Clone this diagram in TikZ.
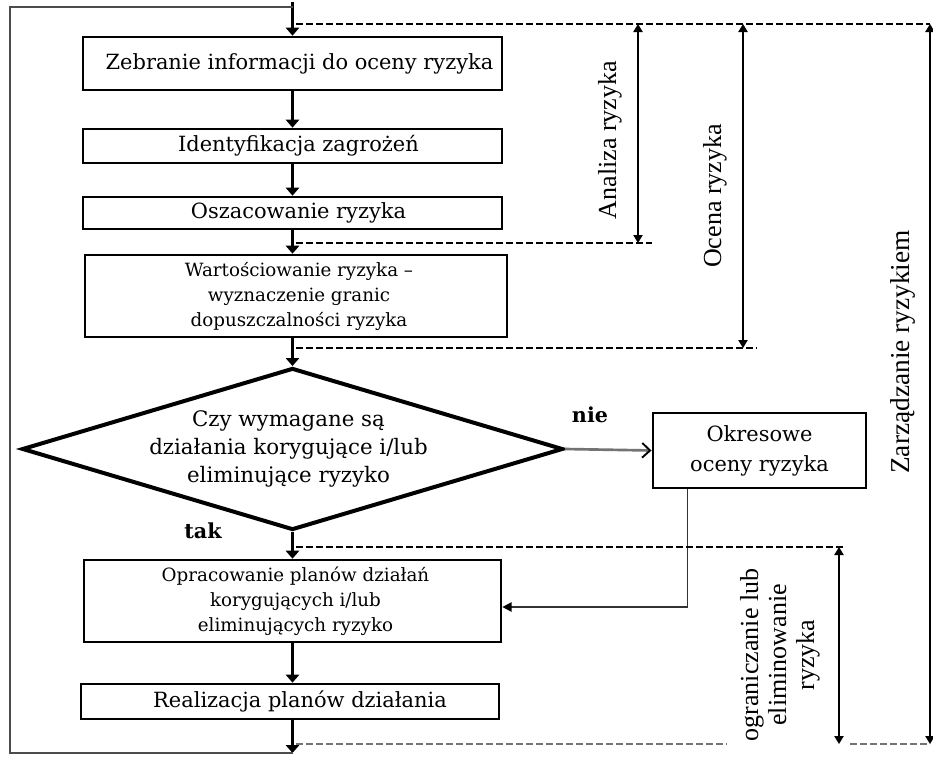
\documentclass[tikz,border=0pt]{standalone}
\usepackage{fontspec}
\setmainfont{DejaVu Serif}
\newfontfamily\timesf{Liberation Serif}
\usetikzlibrary{arrows.meta,shapes.geometric,calc}

\newcommand\boxfont{\fontsize{15.7}{18.75}\selectfont}
\newcommand\smallboxfont{\fontsize{13.7}{18.75}\selectfont}
\newcommand\decfont{\fontsize{16}{21}\selectfont}
\newcommand\labfont{\timesf\fontsize{19.5}{21}\selectfont}

\begin{document}
\begin{tikzpicture}[x=0.75pt,y=-0.75pt,
  frame/.style={draw,line width=2pt,inner sep=0pt},
  btext/.style={inner sep=0pt,align=center,font=\boxfont},
  flow/.style={line width=2.2pt,-{Triangle[length=6pt,width=10pt]}},
  loopline/.style={line width=1.6pt,black!70},
  guide/.style={dash pattern=on 5.5pt off 2pt,line width=1.5pt},
  span/.style={line width=1pt,{Triangle[length=6pt,width=7pt]}-{Triangle[length=6pt,width=7pt]}},
  vlabel/.style={rotate=90,font=\labfont,align=center,inner sep=0pt},
  answer/.style={font=\fontsize{15.5}{17}\selectfont\bfseries,inner sep=0pt},
]
\useasboundingbox (0,0) rectangle (933,757);

% process boxes
\node[frame,minimum width=419*0.75pt,minimum height=53*0.75pt] (b1) at (292.5,63.5) {};
\node[btext] (t1) at ([xshift=7*0.75pt]b1.center) {Zebranie informacji do oceny ryzyka};

\node[frame,minimum width=419*0.75pt,minimum height=34*0.75pt] (b2) at (292.5,146) {};
\node[btext] (t2) at ([xshift=6*0.75pt]b2.center) {Identyfikacja zagrożeń};

\node[frame,minimum width=419*0.75pt,minimum height=32*0.75pt] (b3) at (292.5,213) {};
\node[btext] (t3) at ([xshift=6*0.75pt]b3.center) {Oszacowanie ryzyka};

\node[frame,minimum width=422*0.75pt,minimum height=82*0.75pt] (b4) at (296,296) {};
\node[btext,font=\smallboxfont] (t4) at ([xshift=3*0.75pt]b4.center)
  {Wartościowanie ryzyka –\\ wyznaczenie granic\\ dopuszczalności ryzyka};

% decision
\node[diamond,draw,line width=3pt,minimum width=541*0.75pt,minimum height=162*0.75pt,inner sep=0pt] (dec) at (292.5,449) {};
\node[btext,font=\decfont] (td) at ([xshift=-4*0.75pt]dec.center)
  {Czy wymagane są\\ działania korygujące i/lub\\ eliminujące ryzyko};

\node[frame,line width=2.2pt,minimum width=213*0.75pt,minimum height=75*0.75pt,
      align=center,font=\fontsize{15.7}{22.5}\selectfont] (ok) at (759.5,450.5)
  {Okresowe\\ oceny ryzyka};

\node[frame,minimum width=417*0.75pt,minimum height=82*0.75pt] (b5) at (292.5,601) {};
\node[btext,font=\smallboxfont] (t5) at ([xshift=3*0.75pt]b5.center)
  {Opracowanie planów działań\\ korygujących i/lub\\ eliminujących ryzyko};

\node[frame,minimum width=418*0.75pt,minimum height=35*0.75pt] (b6) at (290,701.5) {};
\node[btext] (t6) at ([xshift=10*0.75pt]b6.center) {Realizacja planów działania};

\node[answer] (nie) at (590,415) {nie};
\node[answer] (tak) at (203,531) {tak};

% feedback loop
\coordinate (lb)  at (292.5,753);
\coordinate (lbl) at (10,753);
\coordinate (ltl) at (10,7);
\coordinate (lt)  at (292.5,7);
\coordinate (top) at (292.5,2);

% main flow
\draw[flow] (top) -- (b1.north);
\draw[flow] (b1.south) -- (b2.north);
\draw[flow] (b2.south) -- (b3.north);
\draw[flow] (b3.south) -- (b3.south |- b4.north);
\draw[flow] (b4.south -| b3.south) -- (dec.north);
\draw[flow] (dec.south) -- (b5.north);
\draw[flow] (b5.south) -- (b5.south |- b6.north);
\draw[flow] (b6.south -| b5.south) -- (lb);
\draw[loopline] (lb) -- (lbl) -- (ltl) -- (lt);

% "nie" branch and return
\draw[line width=2pt,black!55,-{Straight Barb[length=6pt,width=11pt,line width=1.4pt,black]}] (dec.east) -- (ok.west);
\coordinate (okb) at ($(ok.south west)+(36,0)$);
\draw[line width=1.3pt,black!80,-{Triangle[length=7pt,width=7pt,black]}] (okb) |- ([yshift=-6*0.75pt]b5.east);

% phase boundaries
\coordinate (g1) at (296,24);
\coordinate (g2) at (296,243);
\coordinate (g3) at (296,348);
\coordinate (g4) at (296,547);
\coordinate (g5) at (296,744);
\coordinate (a1) at (638,24);
\coordinate (a2) at (638,243);
\coordinate (o1) at (743,24);
\coordinate (o2) at (743,348);
\coordinate (z1) at (930,24);
\coordinate (z2) at (930,744);
\coordinate (e1) at (839,547);
\coordinate (e2) at (839,744);

\draw[guide] (g1) -- (z1);
\draw[guide] (g2) -- ([xshift=14*0.75pt]a2);
\draw[guide] (g3) -- ([xshift=14*0.75pt]o2);
\draw[guide] (g4) -- ([xshift=4*0.75pt]e1);
\draw[guide,black!55] (g5) -- (727,744);
\draw[guide,black!55] (850,744) -- (z2);

% phase spans
\draw[span] (a1) -- (a2);
\draw[span] (o1) -- (o2);
\draw[span] (z1) -- (z2);
\draw[span] (e1) -- (e2);

\node[vlabel] (la) at (610,140) {Analiza ryzyka};
\node[vlabel] (lo) at (715,196) {Ocena ryzyka};
\node[vlabel,font=\timesf\fontsize{20.5}{21}\selectfont] (lz) at (903,352) {Zarządzanie ryzykiem};
\node[vlabel] (le) at (780,655) {ograniczanie lub\\ eliminowanie\\ ryzyka};

\end{tikzpicture}
\end{document}
